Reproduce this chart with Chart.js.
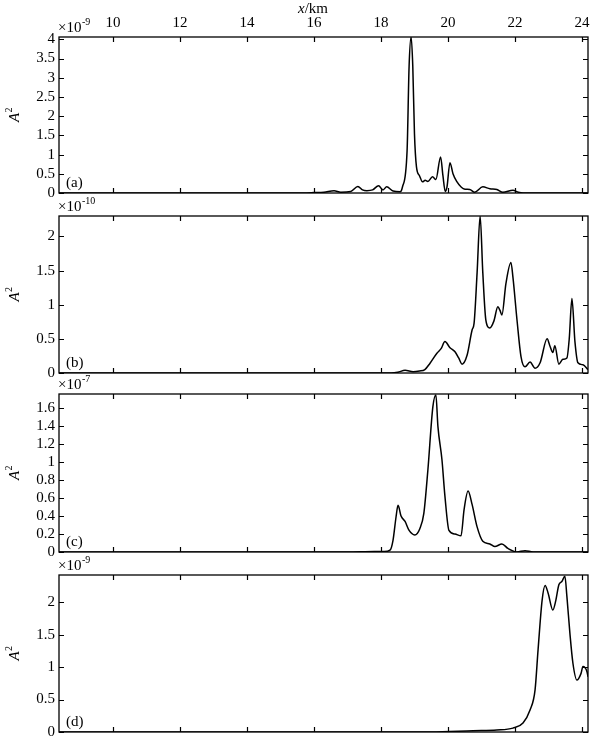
<!DOCTYPE html>
<html><head><meta charset="utf-8">
<script src="https://cdn.jsdelivr.net/npm/chart.js@4/dist/chart.umd.min.js"></script>
<style>
html,body{margin:0;padding:0;background:#fff;}
#wrap{position:relative;width:590px;height:740px;overflow:hidden;}
canvas{position:absolute;left:0;}
</style></head><body>
<div id="wrap">
<canvas id="ca" width="590" height="200" style="top:0px;width:590px;height:200px"></canvas>
<canvas id="cb" width="590" height="190" style="top:190px;width:590px;height:190px"></canvas>
<canvas id="cc" width="590" height="190" style="top:370px;width:590px;height:190px"></canvas>
<canvas id="cd" width="590" height="190" style="top:550px;width:590px;height:190px"></canvas>
</div>
<script>
// ---- shared x axis ----
const xTicks = [10, 12, 14, 16, 18, 20, 22, 24];
const xMin = 8.39, xMax = 24.18;

// ---- panel (a), units of 1e-9 ----
const xA = [8.39, 15.5, 16.0, 16.3, 16.6, 16.8, 17.1, 17.31, 17.45, 17.58, 17.75, 17.93, 18.06, 18.17, 18.36, 18.57, 18.64, 18.78, 18.84, 18.9, 18.95, 19.0, 19.06, 19.15, 19.24, 19.32, 19.4, 19.54, 19.64, 19.78, 19.85, 19.92, 19.97, 20.06, 20.15, 20.26, 20.4, 20.51, 20.65, 20.8, 21.04, 21.25, 21.46, 21.64, 21.94, 22.1, 22.24, 24.18];
const yA = [0, 0, 0.01, 0.02, 0.06, 0.02, 0.04, 0.17, 0.08, 0.06, 0.08, 0.19, 0.08, 0.16, 0.05, 0.03, 0.15, 1.1, 3.3, 4.06, 3.3, 1.55, 0.68, 0.45, 0.29, 0.33, 0.3, 0.42, 0.35, 0.94, 0.45, 0.04, 0.15, 0.79, 0.5, 0.3, 0.15, 0.1, 0.09, 0.02, 0.16, 0.11, 0.09, 0.02, 0.07, 0.02, 0, 0];
const yTicksA = [0, 0.5, 1, 1.5, 2, 2.5, 3, 3.5, 4];
const yMaxA = 4.06;

// ---- panel (b), units of 1e-10 ----
const xB = [8.39, 18.3, 18.5, 18.72, 18.96, 19.15, 19.31, 19.46, 19.67, 19.8, 19.91, 20.06, 20.21, 20.32, 20.42, 20.57, 20.72, 20.78, 20.87, 20.96, 21.04, 21.13, 21.25, 21.37, 21.49, 21.55, 21.61, 21.73, 21.88, 21.94, 22.06, 22.18, 22.3, 22.45, 22.6, 22.75, 22.96, 23.04, 23.13, 23.19, 23.31, 23.43, 23.55, 23.62, 23.7, 23.79, 23.88, 24.03, 24.18];
const yB = [0, 0, 0.01, 0.04, 0.02, 0.03, 0.05, 0.14, 0.29, 0.36, 0.46, 0.37, 0.31, 0.22, 0.13, 0.26, 0.63, 0.73, 1.47, 2.3, 1.47, 0.78, 0.66, 0.76, 0.97, 0.92, 0.85, 1.31, 1.62, 1.4, 0.78, 0.24, 0.09, 0.16, 0.07, 0.15, 0.5, 0.4, 0.3, 0.4, 0.13, 0.2, 0.22, 0.5, 1.09, 0.46, 0.15, 0.12, 0.05];
const yTicksB = [0, 0.5, 1, 1.5, 2];
const yMaxB = 2.3;

// ---- panel (c), units of 1e-7 ----
const xC = [8.39, 17.0, 17.8, 18.1, 18.27, 18.36, 18.45, 18.51, 18.6, 18.72, 18.84, 19.01, 19.16, 19.28, 19.4, 19.55, 19.64, 19.7, 19.82, 19.91, 20.03, 20.21, 20.39, 20.48, 20.6, 20.72, 20.87, 21.04, 21.25, 21.4, 21.61, 21.79, 22.06, 22.3, 22.54, 24.18];
const yC = [0, 0, 0.005, 0.005, 0.02, 0.13, 0.39, 0.52, 0.4, 0.34, 0.24, 0.19, 0.26, 0.43, 0.91, 1.62, 1.75, 1.4, 1.03, 0.62, 0.24, 0.2, 0.18, 0.47, 0.68, 0.53, 0.28, 0.12, 0.09, 0.06, 0.09, 0.04, 0.0, 0.015, 0, 0];
const yTicksC = [0, 0.2, 0.4, 0.6, 0.8, 1, 1.2, 1.4, 1.6];
const yMaxC = 1.76;

// ---- panel (d), units of 1e-9 ----
const xD = [8.39, 19.5, 20.75, 21.46, 21.94, 22.24, 22.45, 22.6, 22.69, 22.81, 22.9, 22.99, 23.13, 23.22, 23.31, 23.4, 23.49, 23.55, 23.64, 23.73, 23.85, 23.97, 24.03, 24.15, 24.18];
const yD = [0, 0, 0.02, 0.03, 0.06, 0.14, 0.34, 0.65, 1.27, 2.03, 2.26, 2.14, 1.88, 2.03, 2.27, 2.32, 2.4, 2.09, 1.52, 1.06, 0.8, 0.9, 1.01, 0.93, 0.85];
const yTicksD = [0, 0.5, 1, 1.5, 2];
const yMaxD = 2.42;

const FONT = "'Liberation Serif', 'Times New Roman', serif";

const framePlugin = {
  id: 'frame',
  afterDatasetsDraw(chart, args, opts) {
    const ctx = chart.ctx;
    const ca = chart.chartArea;
    const xs = chart.scales.x, ys = chart.scales.y;
    ctx.save();
    ctx.strokeStyle = '#000';
    ctx.lineWidth = 1.3;
    ctx.strokeRect(ca.left, ca.top, ca.right - ca.left, ca.bottom - ca.top);
    ctx.lineWidth = 1.2;
    const TL = 5;
    ctx.beginPath();
    xs.ticks.forEach(t => {
      const px = Math.round(xs.getPixelForValue(t.value)) + 0.5;
      ctx.moveTo(px, ca.bottom); ctx.lineTo(px, ca.bottom - TL);
      ctx.moveTo(px, ca.top); ctx.lineTo(px, ca.top + TL);
    });
    ys.ticks.forEach(t => {
      const py = Math.round(ys.getPixelForValue(t.value)) + 0.5;
      ctx.moveTo(ca.left, py); ctx.lineTo(ca.left + TL, py);
      ctx.moveTo(ca.right, py); ctx.lineTo(ca.right - TL, py);
    });
    ctx.stroke();

    ctx.fillStyle = '#000';
    ctx.textBaseline = 'alphabetic';
    ctx.textAlign = 'left';
    ctx.font = '15px ' + FONT;
    const ex = ca.left - 1, ey = ca.top - 5;
    ctx.fillText('\u00d710', ex, ey);
    const w = ctx.measureText('\u00d710').width;
    ctx.font = '10px ' + FONT;
    ctx.fillText(opts.exp, ex + w + 0.5, ey - 7);

    ctx.font = '15px ' + FONT;
    ctx.fillText(opts.label, ca.left + 7, ca.bottom - 6);

    ctx.save();
    ctx.translate(19, (ca.top + ca.bottom) / 2);
    ctx.rotate(-Math.PI / 2);
    ctx.font = 'italic 15px ' + FONT;
    const aw = ctx.measureText('A').width;
    ctx.fillText('A', -(aw + 5) / 2, 0);
    ctx.font = '10px ' + FONT;
    ctx.fillText('2', -(aw + 5) / 2 + aw + 0.5, -7);
    ctx.restore();

    if (opts.title) {
      ctx.font = 'italic 15px ' + FONT;
      const xw = ctx.measureText('x').width;
      ctx.fillText('x', 298, 13);
      ctx.font = '15px ' + FONT;
      ctx.fillText('/km', 298 + xw, 13);
    }
    ctx.restore();
  }
};

function makePanel(id, xs, ys, yTicks, yMax, opts) {
  const pts = xs.map((x, i) => ({ x: x, y: ys[i] }));
  return new Chart(document.getElementById(id), {
    type: 'line',
    data: { datasets: [{ data: pts, borderColor: '#000', borderWidth: 1.5, pointRadius: 0, cubicInterpolationMode: 'monotone', fill: false }] },
    options: {
      responsive: false, animation: false, devicePixelRatio: 1,
      layout: { padding: { left: 0, right: 2, top: opts.padTop, bottom: opts.padBottom } },
      plugins: { legend: { display: false }, tooltip: { enabled: false }, frame: opts },
      scales: {
        x: {
          type: 'linear', position: 'bottom', min: xMin, max: xMax, display: false,
          afterBuildTicks: s => { s.ticks = xTicks.map(v => ({ value: v })); }
        },
        x2: {
          type: 'linear', position: 'top', min: xMin, max: xMax, display: !!opts.title,
          grid: { display: false, drawTicks: false }, border: { display: false },
          ticks: { color: '#000', font: { family: FONT, size: 15 }, padding: 5, maxRotation: 0, autoSkip: false, callback: v => String(v) },
          afterBuildTicks: s => { s.ticks = xTicks.map(v => ({ value: v })); },
          afterFit: s => {
            if (opts.title) { s.height = 37; } else { s.height = 0; }
            s.paddingLeft = 0; s.paddingRight = 0; s.paddingTop = 0; s.paddingBottom = 0;
          }
        },
        y: {
          type: 'linear', position: 'left', min: 0, max: yMax,
          grid: { display: false, drawTicks: false }, border: { display: false },
          ticks: { color: '#000', font: { family: FONT, size: 15 }, padding: 4, autoSkip: false, callback: v => String(v) },
          afterBuildTicks: s => { s.ticks = yTicks.map(v => ({ value: v })); },
          afterFit: s => { s.width = 59; s.paddingTop = 0; s.paddingBottom = 0; s.paddingLeft = 0; s.paddingRight = 0; }
        }
      }
    },
    plugins: [framePlugin]
  });
}

makePanel('ca', xA, yA, yTicksA, yMaxA, { label: '(a)', exp: '-9', title: true, padTop: 0, padBottom: 7 });
makePanel('cb', xB, yB, yTicksB, yMaxB, { label: '(b)', exp: '-10', title: false, padTop: 26, padBottom: 7 });
makePanel('cc', xC, yC, yTicksC, yMaxC, { label: '(c)', exp: '-7', title: false, padTop: 24, padBottom: 8 });
makePanel('cd', xD, yD, yTicksD, yMaxD, { label: '(d)', exp: '-9', title: false, padTop: 25, padBottom: 8 });
</script>
</body></html>
